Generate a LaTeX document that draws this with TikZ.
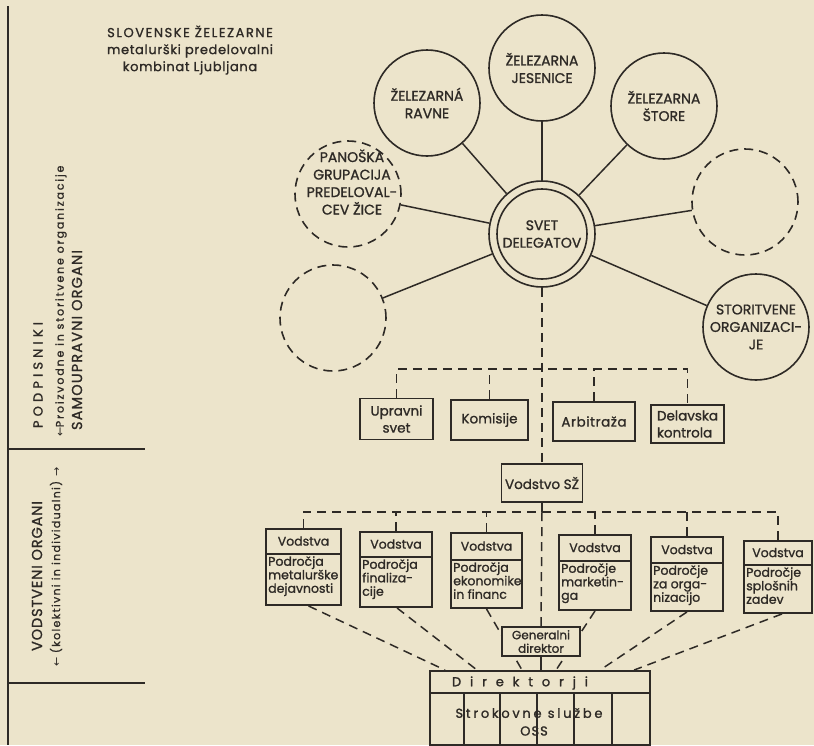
\documentclass[tikz,border=0pt]{standalone}
\usepackage{fontspec}
\setmainfont{Poppins}[FakeBold=1.2]
\newfontfamily\arrowfont{DejaVu Sans}
\definecolor{paper}{HTML}{ECE4CB}
\definecolor{ink}{HTML}{2E2A26}
\newcommand\lsp[2]{{\addfontfeature{LetterSpace=#1}#2}}
\newcommand\lowbox[7]{%
  \node[lbox, minimum width=#4pt, minimum height=#5pt] (#1) at (#2,#3) {};
  \draw[sline] ([yshift=-#6pt]#1.north west) -- ([yshift=-#6pt]#1.north east);
  \node[hdrtext] (#1h) at ([yshift=-#6pt/2]#1.north) {Vodstva};
  \node[bodytext] (#1t) at ([xshift=2pt,yshift=-#6pt-1pt]#1.north west) {#7};
}
\begin{document}
\begin{tikzpicture}[x=1pt,y=-1pt,
  every node/.style={text=ink},
  circ/.style={circle, draw=ink, line width=1.6pt, minimum size=106pt, inner sep=0pt, align=center, font=\fontsize{14}{17.5}\selectfont},
  dcirc/.style={circ, dash pattern=on 9pt off 6pt},
  ubox/.style={draw=ink, line width=1.9pt, rectangle, inner sep=0pt, align=center, font=\fontsize{13.5}{17}\selectfont},
  lbox/.style={draw=ink, line width=1.9pt, rectangle, inner sep=0pt},
  hdrtext/.style={font=\fontsize{12.5}{13}\selectfont, inner sep=0pt},
  bodytext/.style={anchor=north west, align=left, font=\fontsize{12.5}{13.5}\selectfont, inner sep=1pt},
  dline/.style={draw=ink, line width=1.5pt, dash pattern=on 9pt off 6pt},
  sline/.style={draw=ink, line width=1.5pt},
  side/.style={rotate=90, inner sep=0pt}
]
\fill[paper] (0,0) rectangle (814,745);
\useasboundingbox (0,0) rectangle (814,745);

% ---- left sidebar
\draw[ink, line width=2.2pt] (8,6) -- (8,745);
\draw[sline, line width=1.8pt] (8,449) -- (145,449);
\draw[sline, line width=1.8pt] (8,683) -- (145,683);
\node[side, font=\fontsize{13}{14}\selectfont] (podp) at (38,375)
  {\makebox[106pt]{P\hfill O\hfill D\hfill P\hfill I\hfill S\hfill N\hfill I\hfill K\hfill I}};
\node[side, font=\fontsize{11}{12}\selectfont] (proiz) at (61,301)
  {\lsp{17}{{\arrowfont ←}Proizvodne in storitvene organizacije}};
\node[side, font=\fontsize{14.5}{15}\selectfont] (samo) at (77,340) {\lsp{8}{SAMOUPRAVNI ORGANI}};
\node[side, font=\fontsize{14.5}{15}\selectfont] (vods) at (37,576) {\lsp{6}{VODSTVENI ORGANI}};
\node[side, font=\fontsize{11}{12}\selectfont] (kol) at (56,567)
  {\lsp{12}{{\arrowfont ←} (kolektivni in individualni) {\arrowfont →}}};

% ---- title
\node[align=center, font=\fontsize{13}{17}\selectfont] (title) at (190,50)
  {\lsp{12}{SLOVENSKE ŽELEZARNE}\\ \lsp{5}{metalurški predelovalni}\\ \lsp{5}{kombinat Ljubljana}};

% ---- circles
\node[circ] (svet) at (542,234) {SVET\\DELEGATOV};
\draw[ink, line width=1.6pt] (svet.center) circle[radius=45pt];
\node[circ] (ravne) at (427,103) {ŽELEZARNÁ\\RAVNE};
\node[circ] (jes) at (542,68) {ŽELEZARNA\\JESENICE};
\node[circ] (store) at (664,106) {ŽELEZARNA\\ŠTORE};
\node[dcirc] (pan) at (348,194) {};
\node[align=center, font=\fontsize{14}{17.5}\selectfont, inner sep=0pt] (panT) at (352,182)
  {PANOŠKA\\GRUPACIJA\\PREDELOVAL-\\CEV ŽICE};
\node[dcirc] (rd) at (745,202) {};
\node[dcirc] (ld) at (333,318) {};
\node[circ] (stor) at (756,327) {STORITVENE\\ORGANIZACI-\\JE};

\draw[sline] (svet) -- (ravne);
\draw[sline] (svet) -- (jes);
\draw[sline] (svet) -- (store);
\draw[sline] (svet) -- (pan);
\draw[sline] (svet) -- (rd);
\draw[sline] (svet) -- (ld);
\draw[sline] (svet) -- (stor);

% ---- upper boxes
\node[ubox, minimum width=73pt, minimum height=41pt] (upr) at (396.5,419) {Upravni\\svet};
\node[ubox, minimum width=77pt, minimum height=40pt] (kom) at (489.5,420) {Komisije};
\node[ubox, minimum width=82pt, minimum height=39pt] (arb) at (594,421.5) {\lsp{4}{Arbitraža}};
\node[ubox, minimum width=73pt, minimum height=38pt, align=left] (del) at (687.5,424) {Delavska\\kontrola};
\node[ubox, minimum width=81pt, minimum height=38pt] (vod) at (542,483) {Vodstvo SŽ};

\coordinate (busA) at (0,369);
\draw[dline] (upr.north) -- (upr.north |- busA) -- (del.north |- busA) -- (del.north);
\draw[dline] (kom.north) -- (kom.north |- busA);
\draw[dline] (arb.north) -- (arb.north |- busA);
\draw[dline] (svet.south) -- (vod.north);

% ---- lower boxes
\lowbox{b1}{303.5}{567}{75}{76}{26}{Področja\\metalurške\\dejavnosti}
\lowbox{b2}{396}{569.5}{72}{75}{26}{Področja\\finaliza-\\cije}
\lowbox{b3}{486.5}{570.5}{71}{75}{28}{Področja\\ekonomike\\in financ}
\lowbox{b4}{595}{572.5}{72}{75}{27}{Področje\\marketin-\\ga}
\lowbox{b5}{687}{574}{72}{74}{27}{Področje\\za orga-\\nizacijo}
\lowbox{b6}{778}{577}{68}{72}{25}{Področje\\splošnih\\zadev}

\coordinate (busB) at (0,512);
\draw[dline] (b1.north) -- (b1.north |- busB) -- (b6.north |- busB) -- (b6.north);
\draw[dline] (b2.north) -- (b2.north |- busB);
\draw[dline] (b3.north) -- (b3.north |- busB);
\draw[dline] (b4.north) -- (b4.north |- busB);
\draw[dline] (b5.north) -- (b5.north |- busB);
\draw[sline] (vod.south) -- (vod.south |- busB);

% ---- Direktorji
\node[lbox, minimum width=220pt, minimum height=74pt] (dir) at (540,708) {};
\draw[sline] ([yshift=-23pt]dir.north west) -- ([yshift=-23pt]dir.north east);
\foreach \dx in {35,71,108,145,183}
  \draw[sline] ([xshift=\dx pt,yshift=-23pt]dir.north west) -- ([xshift=\dx pt]dir.south west);
\node[font=\fontsize{13}{14}\selectfont, inner sep=0pt] (dirT) at (520,683)
  {\makebox[136pt]{D\hfill i\hfill r\hfill e\hfill k\hfill t\hfill o\hfill r\hfill j\hfill i}};
\node[font=\fontsize{13}{14}\selectfont, inner sep=0pt] (oss1) at (529,713) {\lsp{21}{Strokovne službe}};
\node[font=\fontsize{13}{14}\selectfont, inner sep=0pt] (oss2) at (534,731) {\lsp{8}{OSS}};

\draw[dline] ([xshift=5pt]b1.south) -- ([xshift=16pt]dir.north west);
\draw[dline] ([xshift=1pt]b2.south) -- ([xshift=48pt]dir.north west);
\draw[dline] (b3.south) -- ([xshift=93pt]dir.north west);
\draw[dline] (b4.south) -- ([xshift=127pt]dir.north west);
\draw[dline] (b5.south) -- ([xshift=171pt]dir.north west);
\draw[dline] ([xshift=4pt]b6.south) -- ([xshift=205pt]dir.north west);

\node[ubox, fill=paper, minimum width=78pt, minimum height=29pt, font=\fontsize{12}{13.5}\selectfont] (gen) at (541,641.5) {Generalni\\direktor};
\draw[dline] (vod.south |- busB) -- (gen.north);
\draw[sline] (gen.south) -- (gen.south |- dir.north);
\end{tikzpicture}
\end{document}
